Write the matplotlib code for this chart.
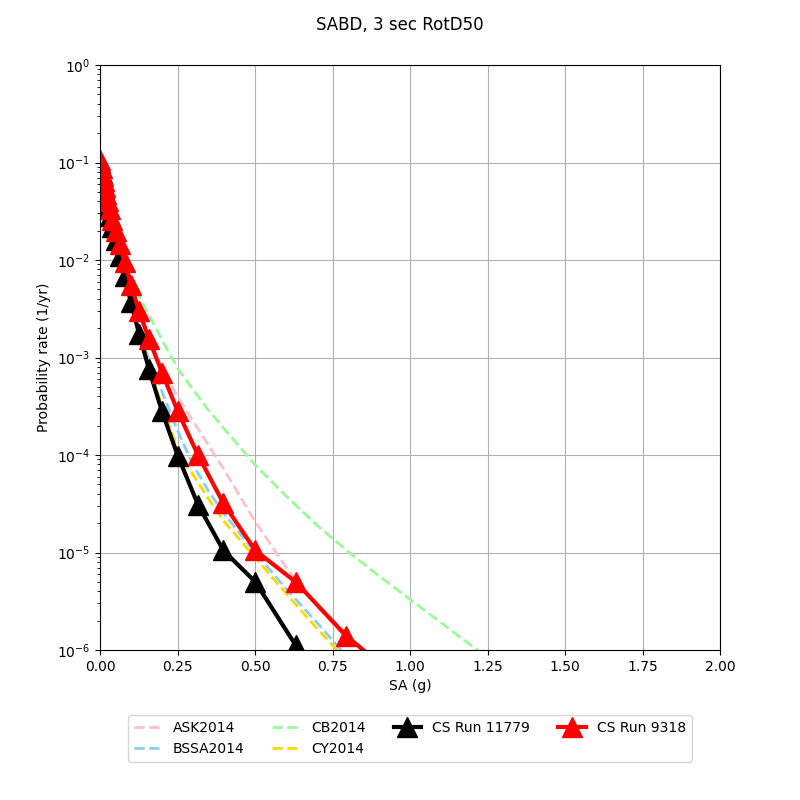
import matplotlib
matplotlib.use('Agg')
import matplotlib.pyplot as plt
import numpy as np

# CyberShake IM levels (g)
cs_x = [0.0001, 0.001, 0.005, 0.01, 0.0126, 0.0158, 0.02, 0.0251, 0.0316, 0.0398,
        0.0501, 0.0631, 0.0794, 0.1, 0.126, 0.158, 0.2, 0.251, 0.316, 0.398,
        0.501, 0.631, 0.794, 1.0]

run_11779 = [0.1, 0.093, 0.078, 0.062, 0.055, 0.048, 0.041, 0.034, 0.028, 0.022,
             0.016, 0.011, 6.8e-3, 3.7e-3, 1.75e-3, 7.6e-4, 2.8e-4, 9.8e-5, 3.1e-5, 1.05e-5,
             5.0e-6, 1.12e-6, 3e-7, 5e-8]

run_9318 = [0.105, 0.1, 0.088, 0.072, 0.064, 0.056, 0.048, 0.040, 0.033, 0.026,
            0.020, 0.0145, 9.5e-3, 5.5e-3, 3.0e-3, 1.55e-3, 7.0e-4, 2.8e-4, 1.0e-4, 3.2e-5,
            1.05e-5, 5.0e-6, 1.4e-6, 4e-7]

# GMPE curves, log10 of rate
gmpe_x = [0.0001, 0.01, 0.02, 0.05, 0.075, 0.1, 0.15, 0.2, 0.25, 0.3, 0.35, 0.4,
          0.5, 0.6, 0.7, 0.8, 0.9, 1.0, 1.1, 1.2, 1.3]
ask_log = [-1.0, -1.18, -1.33, -1.75, -2.1, -2.35, -2.75, -3.1, -3.4, -3.65, -3.9, -4.15,
           -4.68, -5.15, -5.55, -5.9, -6.2, -6.5, -6.8, -7.1, -7.4]
bssa_log = [-1.0, -1.2, -1.35, -1.8, -2.2, -2.45, -2.95, -3.35, -3.75, -4.1, -4.37, -4.6,
            -5.0, -5.37, -5.72, -6.08, -6.4, -6.7, -7.0, -7.3, -7.6]
cb_log = [-1.0, -1.15, -1.3, -1.7, -1.95, -2.2, -2.52, -2.82, -3.11, -3.33, -3.54, -3.73,
          -4.10, -4.42, -4.72, -4.99, -5.24, -5.48, -5.72, -5.96, -6.2]
cy_log = [-1.0, -1.2, -1.35, -1.8, -2.2, -2.45, -3.0, -3.5, -3.93, -4.2, -4.45, -4.68,
          -5.05, -5.42, -5.78, -6.12, -6.45, -6.75, -7.05, -7.35, -7.65]

fig = plt.figure(figsize=(8, 8), dpi=100)
ax = fig.add_axes([0.125, 0.1875, 0.775, 0.73125])

ax.plot(gmpe_x, 10 ** np.array(ask_log), ls='--', lw=2, color='pink', label='ASK2014')
ax.plot(gmpe_x, 10 ** np.array(bssa_log), ls='--', lw=2, color='lightskyblue', label='BSSA2014')
ax.plot(gmpe_x, 10 ** np.array(cb_log), ls='--', lw=2, color='palegreen', label='CB2014')
ax.plot(gmpe_x, 10 ** np.array(cy_log), ls='--', lw=2, color='gold', label='CY2014')
ax.plot(cs_x, run_11779, color='black', lw=3, marker='^', ms=15, label='CS Run 11779')
ax.plot(cs_x, run_9318, color='red', lw=3, marker='^', ms=15, label='CS Run 9318')

ax.set_yscale('log')
ax.set_xlim(0, 2)
ax.set_ylim(1e-6, 1)
ax.set_xticks(np.arange(0, 2.01, 0.25))
ax.grid(True, which='major')
ax.set_xlabel('SA (g)')
ax.set_ylabel('Probability rate (1/yr)')
fig.suptitle('SABD, 3 sec RotD50')
ax.legend(loc='upper center', bbox_to_anchor=(0.5, -0.1), ncol=4)

fig.savefig('out.png')
